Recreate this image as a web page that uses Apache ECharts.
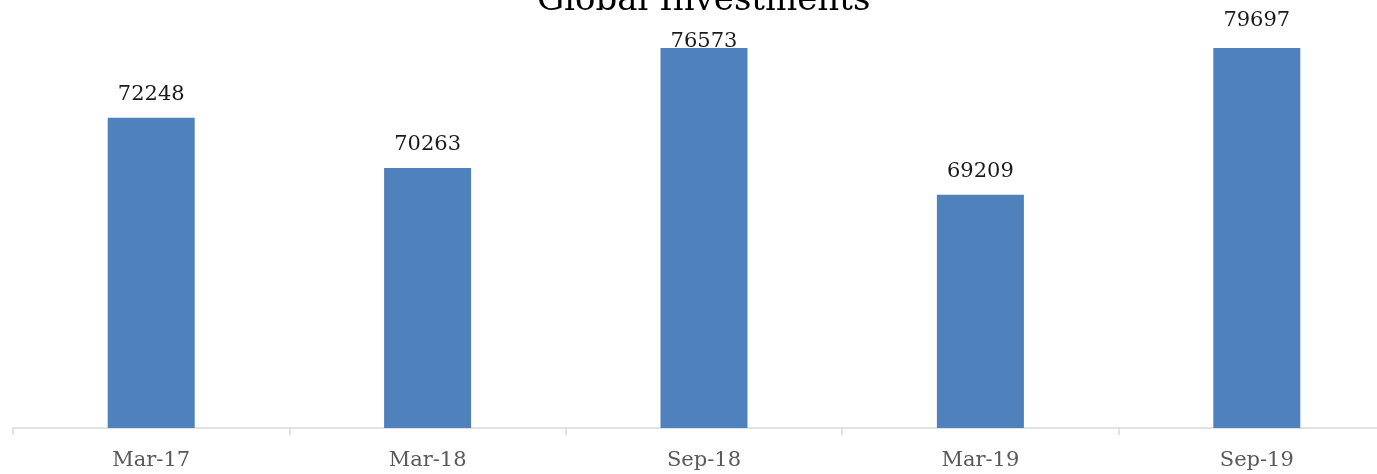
<!DOCTYPE html>
<html>
<head>
<meta charset="utf-8">
<script src="https://cdn.jsdelivr.net/npm/echarts@6/dist/echarts.min.js"></script>
<style>
  html, body { margin: 0; padding: 0; background: #fff; overflow: hidden; }
  /* the plot runs a little past the right edge of the window */
  #chart { width: 1395px; height: 474px; }
</style>
</head>
<body>
<div id="chart"></div>
<script>
// periods and values
const categories = ['Mar-17', 'Mar-18', 'Sep-18', 'Mar-19', 'Sep-19'];
const investments = [72248, 70263, 76573, 69209, 79697];

// label distance per bar (the two tallest are clipped at the top of the plot)
const labelDistance = [13, 13, -4, 13, 17];

const serif = '"DejaVu Serif", serif';

const chart = echarts.init(document.getElementById('chart'), null, { renderer: 'canvas' });

chart.setOption({
  backgroundColor: '#fff',
  animation: false,
  title: {
    text: 'Global Investments',
    left: 537,
    top: -16,
    padding: 0,
    textStyle: { fontFamily: serif, fontSize: 34, fontWeight: 'normal', color: '#000' }
  },
  grid: { left: 13, right: 0, top: 48, bottom: 46, containLabel: false },
  xAxis: {
    type: 'category',
    data: categories,
    axisLine: { lineStyle: { color: '#d9d9d9', width: 1.5 } },
    axisTick: { show: true, length: 7, lineStyle: { color: '#d9d9d9', width: 1.5 } },
    axisLabel: { fontFamily: serif, fontSize: 21, color: '#595959', margin: 22 }
  },
  yAxis: {
    type: 'value',
    min: 60000,
    max: 75000,
    show: false,
    splitLine: { show: false }
  },
  series: [
    {
      type: 'bar',
      clip: true,
      barWidth: 87,
      itemStyle: { color: '#4f81bd' },
      data: investments.map((v, i) => ({
        value: v,
        label: { distance: labelDistance[i] }
      })),
      label: {
        show: true,
        position: 'top',
        fontFamily: serif,
        fontSize: 21,
        color: '#1a1a1a'
      }
    }
  ]
});
</script>
</body>
</html>
